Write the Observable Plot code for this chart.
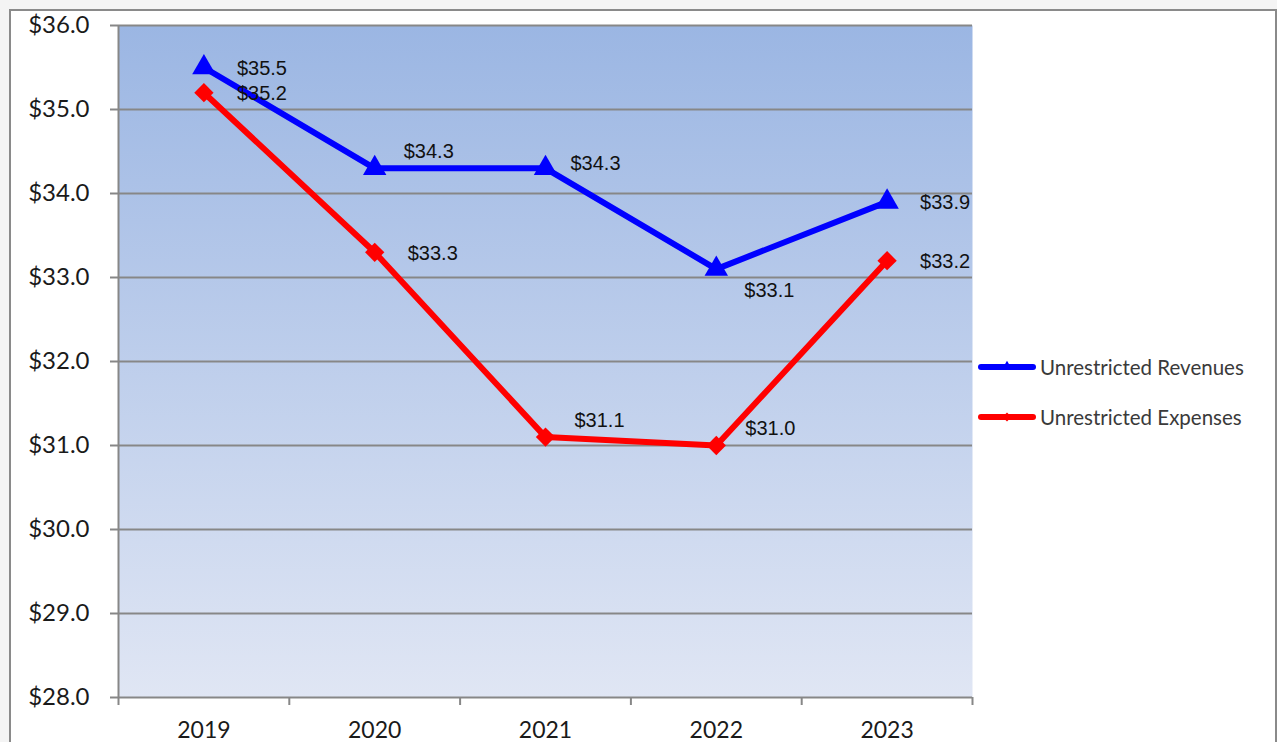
<!DOCTYPE html>
<html><head><meta charset="utf-8">
<script src="https://cdn.jsdelivr.net/npm/d3@7"></script>
<script src="https://cdn.jsdelivr.net/npm/@observablehq/plot@0.6"></script>
<style>
html,body{margin:0;padding:0;background:#f4f4f4;width:1277px;height:742px;overflow:hidden}
#box{position:absolute;left:9px;top:9px;width:1268px;height:760px;background:#fff;border:2px solid #8a8a8a;box-sizing:border-box}
#chart{position:absolute;left:0;top:0}
#legend{position:absolute;left:978px;top:352px;font-family:Lato,sans-serif;font-size:20.5px;color:#3a3a3a}
.li{position:absolute;left:0;white-space:nowrap;display:flex;align-items:center;height:30px}
.li svg{display:block;margin-right:4px}
</style></head><body>
<div id="box"></div><div id="chart"></div><div id="legend"></div>
<script>
const years = [2019, 2020, 2021, 2022, 2023];
const revenues = [35.5, 34.3, 34.3, 33.1, 33.9];
const expenses = [35.2, 33.3, 31.1, 31.0, 33.2];
const seriesNames = ["Unrestricted Revenues", "Unrestricted Expenses"];
const seriesColors = ["#0000ff", "#ff0000"];
const seriesSymbols = ["triangle", "diamond2"];
const yTicks = [28, 29, 30, 31, 32, 33, 34, 35, 36];
// label placement (layout only)
const revLabelPlace = ["right", "above", "upright", "below", "right"];
const expLabelPlace = ["right", "right", "above", "above", "right"];
const placements = {right: {dx: 33, dy: 1}, above: {dx: 29, dy: -17}, below: {dx: 28, dy: 21}, upright: {dx: 25, dy: -5}};

const rows = years.flatMap((yr, i) => [
  {year: yr, value: revenues[i], series: seriesNames[0], place: revLabelPlace[i]},
  {year: yr, value: expenses[i], series: seriesNames[1], place: expLabelPlace[i]}
]);
const fmt = d => "$" + d.toFixed(1);
const bounds = [years[0] - 0.5, ...years.map(y => y + 0.5)];
const gray = "#878787";

const plot = Plot.plot({
  width: 1277, height: 742,
  marginLeft: 118, marginRight: 305, marginTop: 25, marginBottom: 45,
  style: {background: "transparent", fontFamily: "Lato, sans-serif", overflow: "visible"},
  x: {domain: [bounds[0], bounds[bounds.length - 1]]},
  y: {domain: [28, 36]},
  color: {domain: seriesNames, range: seriesColors},
  symbol: {domain: seriesNames, range: seriesSymbols},
  marks: [
    Plot.frame({fill: "url(#bgGrad)", stroke: null}),
    Plot.gridY(yTicks, {stroke: gray, strokeOpacity: 1, strokeWidth: 2}),
    Plot.ruleX([bounds[0]], {stroke: gray, strokeWidth: 2}),
    Plot.axisY(yTicks, {tickSize: 8, tickPadding: 21, tickFormat: fmt, fontSize: 24, fill: "#1a1a1a", stroke: gray, strokeWidth: 2, label: null}),
    Plot.axisX(bounds, {tickSize: 8, tickFormat: () => "", stroke: gray, strokeWidth: 2, label: null}),
    Plot.axisX(years, {tickSize: 0, tickPadding: 24, tickFormat: d => String(d), fontSize: 23, fill: "#1a1a1a", label: null}),
    Plot.line(rows, {x: "year", y: "value", z: "series", stroke: "series", strokeWidth: 6}),
    Plot.dot(rows, {x: "year", y: "value", fill: "series", symbol: "series", r: 8.7, stroke: null}),
    ...Object.entries(placements).map(([k, p]) =>
      Plot.text(rows.filter(d => d.place === k), {
        x: "year", y: "value", text: d => fmt(d.value), textAnchor: "start",
        dx: p.dx, dy: p.dy, fontSize: 20, fontFamily: "Liberation Sans, Arial, sans-serif", fill: "#111", clip: true
      }))
  ]
});
const svg = d3.select(plot);
const defs = svg.insert("defs", ":first-child");
const g = defs.append("linearGradient").attr("id", "bgGrad").attr("x1", 0).attr("y1", 0).attr("x2", 0).attr("y2", 1);
g.append("stop").attr("offset", 0).attr("stop-color", "#9bb6e3");
g.append("stop").attr("offset", 1).attr("stop-color", "#e0e6f4");
document.getElementById("chart").appendChild(plot);

// legend
const legend = d3.select("#legend");
seriesNames.forEach((name, i) => {
  const item = legend.append("div").attr("class", "li").style("top", (i * 50) + "px");
  const s = item.append("svg").attr("width", 58).attr("height", 14);
  s.append("line").attr("x1", 3).attr("x2", 55).attr("y1", 7).attr("y2", 7)
    .attr("stroke", seriesColors[i]).attr("stroke-width", 6).attr("stroke-linecap", "round");
  s.append("path").attr("transform", "translate(29,7)")
    .attr("d", d3.symbol(i === 0 ? d3.symbolTriangle : d3.symbolDiamond2, 50)())
    .attr("fill", seriesColors[i]);
  item.append("span").text(name);
});
</script>
</body></html>
